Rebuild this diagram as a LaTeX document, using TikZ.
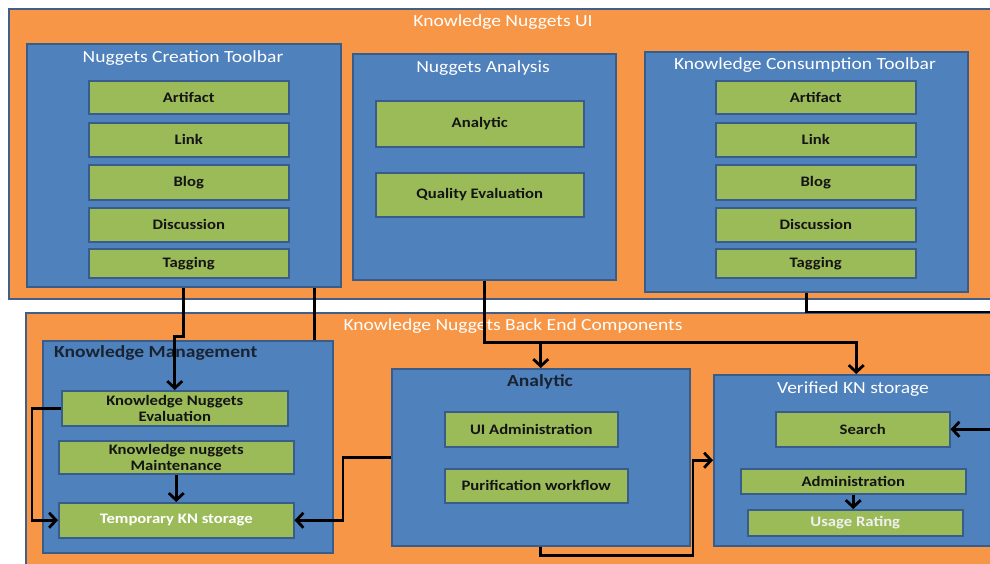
\documentclass[tikz,border=0pt]{standalone}
\usepackage{fontspec}
\setmainfont{Carlito}[FakeStretch=1.15]
\usetikzlibrary{arrows.meta}
\definecolor{panelorange}{RGB}{247,150,70}
\definecolor{panelblue}{RGB}{79,129,189}
\definecolor{itemgreen}{RGB}{155,187,89}
\definecolor{edgeblue}{RGB}{56,93,138}
\definecolor{edgeslate}{RGB}{65,95,135}
\definecolor{labeldark}{RGB}{20,20,20}
\definecolor{titledark}{RGB}{25,35,50}
\newcommand{\titlefont}{\fontsize{17}{19}\selectfont}
\newcommand{\itemfont}{\fontsize{14.5}{16}\selectfont\bfseries}

\begin{document}
\begin{tikzpicture}[x=1pt, y=-1pt, >={Straight Barb[length=7pt,width=15pt]},
  outerbox/.style={draw=edgeslate, line width=1.5pt, fill=panelorange, anchor=north west, inner sep=0pt},
  groupbox/.style={draw=edgeblue, line width=1.5pt, fill=panelblue, anchor=north west, inner sep=0pt},
  itembox/.style={draw=edgeblue, line width=1.5pt, fill=itemgreen, anchor=north west, inner sep=0pt,
    text=labeldark, font=\itemfont, align=center},
  titletext/.style={text=white, font=\titlefont, inner sep=0pt},
  darktitle/.style={text=titledark, font=\titlefont\bfseries, inner sep=0pt},
  link/.style={line width=2.8pt, black}]

  \useasboundingbox (0,0) rectangle (990,563);
  \clip (0,0) rectangle (990,563);

  % Outer panels
  \node[outerbox, minimum width=992, minimum height=290] (ui) at (8,8) {};
  \node[titletext] (uiTitle) at (503,22) {Knowledge Nuggets UI};
  \node[outerbox, minimum width=975, minimum height=260] (be) at (25,312) {};
  \node[titletext] (beTitle) at (513,326) {Knowledge Nuggets Back End Components};

  % UI toolbars
  \node[groupbox, minimum width=314, minimum height=243] (nct) at (26,43) {};
  \node[titletext] (nctTitle) at (183,58) {Nuggets Creation Toolbar};
  \node[groupbox, minimum width=263, minimum height=226] (na) at (352,53) {};
  \node[titletext] (naTitle) at (483,68) {Nuggets Analysis};
  \node[groupbox, minimum width=323, minimum height=240] (kct) at (644,51) {};
  \node[titletext] (kctTitle) at (805,65) {Knowledge Consumption Toolbar};

  \foreach \lbl/\y/\h [count=\i] in {Artifact/80/33, Link/122/34, Blog/164/35, Discussion/207/34, Tagging/248/29} {
    \node[itembox, minimum width=200, minimum height=\h] (nc\i) at (88,\y) {\lbl};
    \node[itembox, minimum width=200, minimum height=\h] (kc\i) at (715,\y) {\lbl};
  }
  \node[itembox, minimum width=208, minimum height=46] (naAnalytic) at (375,100) {Analytic};
  \node[itembox, minimum width=208, minimum height=44] (naQuality) at (375,172) {Quality Evaluation};

  % Back end components
  \node[groupbox, minimum width=290, minimum height=212] (km) at (42,340) {};
  \node[darktitle, anchor=west] (kmTitle) at (54,353) {Knowledge Management};
  \node[itembox, minimum width=226, minimum height=35] (kne) at (61,390) {Knowledge Nuggets\\Evaluation};
  \node[itembox, minimum width=235, minimum height=33] (knm) at (58,440) {Knowledge nuggets\\Maintenance};
  \node[itembox, minimum width=235, minimum height=35, text=white] (tks) at (58,502) {Temporary KN storage};

  \node[groupbox, minimum width=298, minimum height=177] (an) at (391,368) {};
  \node[darktitle] (anTitle) at (540,382) {Analytic};
  \node[itembox, minimum width=173, minimum height=35] (uia) at (444,411) {UI Administration};
  \node[itembox, minimum width=183, minimum height=34] (pw) at (444,468) {Purification workflow};

  \node[groupbox, minimum width=285, minimum height=171] (vks) at (713,374) {};
  \node[titletext] (vksTitle) at (853,389) {Verified KN storage};
  \node[itembox, minimum width=174, minimum height=35] (search) at (775,411) {Search};
  \node[itembox, minimum width=225, minimum height=25] (adm) at (740,468) {Administration};
  \node[itembox, minimum width=215, minimum height=26, text=white!94!black] (ur) at (747,509) {Usage Rating};

  % Connectors
  \coordinate (offright) at (1000,312);
  \draw[link, ->] (nct.south) -- ++(0,49) -| (kne.north);
  \draw[link] ([xshift=-27pt]nct.south east) -- ([xshift=-27pt]nct.south east |- km.north);
  \draw[link, ->] (na.south) -- ++(0,62) coordinate (split) -| (vks.north);
  \draw[link, ->] (split -| an.north) -- (an.north);
  \draw[link, ->] (kct.south) |- (offright) |- (search.east);
  \draw[link, ->] (kne.west) -- ++(-29,0) |- (tks.west);
  \draw[link, ->] (knm.south) -- (tks.north);
  \draw[link, ->] (an.west) -- ++(-48,0) |- (tks.east);
  \draw[link, ->] (an.south) -- ++(0,9) -| ([xshift=-20pt]vks.west) -- (vks.west);
  \draw[link, ->] (adm.south) -- (adm.south |- ur.north);

\end{tikzpicture}
\end{document}
